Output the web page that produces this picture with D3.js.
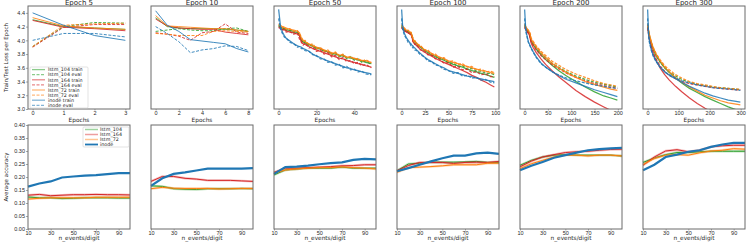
<!DOCTYPE html>
<html>
<head>
<meta charset="utf-8">
<script src="https://cdn.jsdelivr.net/npm/d3@7"></script>
<style>
  body { margin: 0; background: #fff; }
  svg { display: block; font-family: 'DejaVu Sans', sans-serif; }
</style>
</head>
<body>
<div id="chart"></div>
<script>
// Series names and colours
const models = ['lstm_104', 'lstm_164', 'lstm_72', 'inode'];
const colors = { lstm_104: '#2ca02c', lstm_164: '#d62728', lstm_72: '#ff7f0e', inode: '#1f77b4' };

// ---- Top row: loss per epoch ----
const epochs5 = [0, 1, 2, 3];
const loss5 = {
  lstm_104_train: [4.30, 4.20, 4.18, 4.16],
  lstm_104_eval: [3.91, 4.20, 4.26, 4.25],
  lstm_164_train: [4.29, 4.19, 4.17, 4.14],
  lstm_164_eval: [3.90, 4.19, 4.23, 4.23],
  lstm_72_train: [4.33, 4.21, 4.18, 4.16],
  lstm_72_eval: [3.91, 4.22, 4.24, 4.25],
  inode_train: [4.40, 4.22, 4.07, 4.00],
  inode_eval: [4.00, 4.10, 4.10, 4.05],
};

const epochs10 = [0, 1, 2, 3, 4, 5, 6, 7, 8];
const loss10 = {
  lstm_104_train: [4.33, 4.20, 4.18, 4.17, 4.17, 4.17, 4.16, 4.15, 4.13],
  lstm_104_eval: [4.13, 4.15, 4.17, 4.15, 4.14, 4.14, 4.17, 4.18, 4.13],
  lstm_164_train: [4.31, 4.21, 4.18, 4.17, 4.16, 4.16, 4.12, 4.10, 4.08],
  lstm_164_eval: [4.11, 4.09, 4.06, 4.00, 4.11, 4.13, 4.24, 4.12, 4.10],
  lstm_72_train: [4.36, 4.21, 4.20, 4.19, 4.18, 4.17, 4.17, 4.15, 4.13],
  lstm_72_eval: [4.10, 4.09, 4.07, 4.07, 4.07, 4.13, 4.14, 4.13, 4.12],
  inode_train: [4.43, 4.22, 4.13, 4.01, 3.99, 3.97, 3.95, 3.88, 3.83],
  inode_eval: [4.20, 4.10, 3.98, 3.82, 3.86, 3.88, 3.92, 3.91, 3.85],
};

const epochs50 = [0, 1, 2, 3, 4, 6, 8, 10, 11, 12, 13, 14, 16, 18, 20, 22, 24, 26, 28, 30, 32, 34, 36, 38, 40, 42, 44, 46, 49];
const loss50 = {
  lstm_104_train: [4.22, 4.19, 4.18, 4.17, 4.16, 4.14, 4.13, 4.11, 4.09, 4.00, 3.98, 3.96, 3.94, 3.91, 3.89, 3.87, 3.85, 3.83, 3.81, 3.80, 3.78, 3.77, 3.75, 3.74, 3.73, 3.71, 3.70, 3.68, 3.66],
  lstm_104_eval: [4.20, 4.20, 4.16, 4.18, 4.14, 4.15, 4.11, 4.12, 4.07, 4.02, 3.96, 3.98, 3.92, 3.93, 3.87, 3.89, 3.83, 3.85, 3.79, 3.82, 3.76, 3.79, 3.73, 3.76, 3.71, 3.73, 3.68, 3.70, 3.65],
  lstm_164_train: [4.20, 4.17, 4.16, 4.15, 4.14, 4.12, 4.11, 4.09, 4.07, 3.97, 3.95, 3.94, 3.91, 3.88, 3.86, 3.84, 3.82, 3.80, 3.78, 3.76, 3.74, 3.73, 3.71, 3.69, 3.68, 3.66, 3.65, 3.63, 3.61],
  lstm_164_eval: [4.18, 4.18, 4.15, 4.16, 4.12, 4.13, 4.09, 4.11, 4.02, 3.99, 3.93, 3.96, 3.89, 3.90, 3.84, 3.86, 3.80, 3.82, 3.76, 3.78, 3.72, 3.75, 3.69, 3.71, 3.66, 3.68, 3.63, 3.65, 3.60],
  lstm_72_train: [4.24, 4.21, 4.20, 4.19, 4.18, 4.16, 4.15, 4.13, 4.11, 4.03, 4.00, 3.98, 3.95, 3.92, 3.90, 3.88, 3.86, 3.84, 3.82, 3.81, 3.79, 3.78, 3.76, 3.75, 3.74, 3.72, 3.71, 3.70, 3.68],
  lstm_72_eval: [4.22, 4.22, 4.18, 4.20, 4.16, 4.17, 4.13, 4.14, 4.09, 4.05, 3.98, 4.00, 3.93, 3.95, 3.88, 3.90, 3.84, 3.86, 3.80, 3.83, 3.77, 3.80, 3.74, 3.77, 3.72, 3.74, 3.69, 3.72, 3.67],
  inode_train: [4.45, 4.20, 4.12, 4.07, 4.03, 3.99, 3.95, 3.92, 3.91, 3.90, 3.88, 3.87, 3.84, 3.80, 3.77, 3.75, 3.72, 3.70, 3.68, 3.66, 3.64, 3.62, 3.60, 3.59, 3.57, 3.56, 3.54, 3.53, 3.51],
  inode_eval: [4.32, 4.16, 4.10, 4.05, 4.03, 3.97, 3.95, 3.90, 3.91, 3.88, 3.88, 3.85, 3.84, 3.79, 3.78, 3.73, 3.73, 3.68, 3.69, 3.64, 3.65, 3.60, 3.62, 3.57, 3.58, 3.54, 3.55, 3.51, 3.50],
};

const epochs100 = [0, 1, 2, 3, 5, 7, 9, 10, 11, 12, 13, 14, 16, 20, 24, 28, 32, 36, 40, 45, 50, 55, 60, 65, 70, 75, 80, 85, 90, 95, 99];
const loss100 = {
  lstm_104_train: [4.21, 4.18, 4.17, 4.15, 4.14, 4.12, 4.11, 4.10, 4.07, 4.02, 3.99, 3.98, 3.95, 3.90, 3.86, 3.82, 3.79, 3.76, 3.74, 3.71, 3.68, 3.65, 3.63, 3.61, 3.58, 3.56, 3.54, 3.52, 3.50, 3.48, 3.46],
  lstm_104_eval: [4.19, 4.19, 4.15, 4.16, 4.12, 4.13, 4.09, 4.11, 4.05, 4.03, 3.97, 3.99, 3.93, 3.92, 3.85, 3.84, 3.78, 3.78, 3.73, 3.73, 3.67, 3.67, 3.62, 3.63, 3.58, 3.59, 3.55, 3.55, 3.52, 3.52, 3.50],
  lstm_164_train: [4.19, 4.16, 4.15, 4.14, 4.12, 4.11, 4.09, 4.08, 4.05, 3.99, 3.96, 3.95, 3.92, 3.87, 3.83, 3.80, 3.77, 3.74, 3.71, 3.68, 3.65, 3.62, 3.59, 3.56, 3.53, 3.49, 3.46, 3.42, 3.39, 3.35, 3.32],
  lstm_164_eval: [4.18, 4.17, 4.16, 4.13, 4.13, 4.10, 4.10, 4.07, 4.06, 3.98, 3.98, 3.94, 3.94, 3.86, 3.85, 3.79, 3.79, 3.73, 3.73, 3.67, 3.67, 3.61, 3.62, 3.57, 3.58, 3.53, 3.54, 3.50, 3.51, 3.47, 3.47],
  lstm_72_train: [4.23, 4.20, 4.19, 4.17, 4.15, 4.14, 4.12, 4.11, 4.08, 4.03, 4.00, 3.99, 3.96, 3.91, 3.87, 3.84, 3.81, 3.78, 3.76, 3.73, 3.70, 3.68, 3.66, 3.64, 3.62, 3.60, 3.58, 3.56, 3.55, 3.53, 3.52],
  lstm_72_eval: [4.22, 4.21, 4.17, 4.18, 4.14, 4.15, 4.11, 4.12, 4.06, 4.04, 3.98, 4.00, 3.94, 3.93, 3.86, 3.86, 3.80, 3.80, 3.75, 3.75, 3.69, 3.70, 3.65, 3.66, 3.61, 3.62, 3.57, 3.58, 3.54, 3.55, 3.53],
  inode_train: [4.45, 4.22, 4.15, 4.10, 4.04, 4.00, 3.96, 3.95, 3.93, 3.92, 3.90, 3.89, 3.86, 3.81, 3.76, 3.72, 3.69, 3.66, 3.63, 3.60, 3.56, 3.54, 3.52, 3.50, 3.48, 3.47, 3.45, 3.44, 3.42, 3.41, 3.40],
  inode_eval: [4.32, 4.17, 4.12, 4.07, 4.03, 3.97, 3.95, 3.92, 3.92, 3.89, 3.89, 3.86, 3.85, 3.79, 3.76, 3.70, 3.69, 3.64, 3.63, 3.58, 3.56, 3.52, 3.53, 3.48, 3.49, 3.45, 3.46, 3.42, 3.43, 3.39, 3.38],
};

const epochs200 = [0, 2, 4, 8, 10, 12, 14, 18, 25, 35, 45, 60, 75, 90, 110, 130, 150, 170, 185, 199];
const loss200 = {
  lstm_104_train: [4.22, 4.18, 4.16, 4.12, 4.10, 4.05, 3.99, 3.94, 3.87, 3.79, 3.72, 3.63, 3.55, 3.48, 3.40, 3.32, 3.25, 3.19, 3.16, 3.13],
  lstm_104_eval: [4.20, 4.19, 4.15, 4.13, 4.11, 4.07, 4.00, 3.96, 3.89, 3.81, 3.75, 3.66, 3.60, 3.54, 3.48, 3.43, 3.39, 3.36, 3.34, 3.32],
  lstm_164_train: [4.20, 4.16, 4.14, 4.10, 4.08, 4.02, 3.96, 3.90, 3.82, 3.73, 3.65, 3.55, 3.46, 3.38, 3.27, 3.18, 3.10, 3.03, 2.98, 2.95],
  lstm_164_eval: [4.18, 4.17, 4.13, 4.11, 4.09, 4.04, 3.98, 3.93, 3.86, 3.78, 3.72, 3.64, 3.58, 3.52, 3.46, 3.41, 3.37, 3.34, 3.32, 3.30],
  lstm_72_train: [4.24, 4.20, 4.18, 4.14, 4.12, 4.08, 4.02, 3.97, 3.90, 3.82, 3.75, 3.66, 3.59, 3.53, 3.46, 3.40, 3.36, 3.32, 3.29, 3.27],
  lstm_72_eval: [4.22, 4.21, 4.17, 4.15, 4.13, 4.10, 4.03, 3.99, 3.92, 3.84, 3.78, 3.69, 3.63, 3.57, 3.51, 3.46, 3.41, 3.37, 3.35, 3.33],
  inode_train: [4.45, 4.20, 4.10, 3.98, 3.95, 3.92, 3.89, 3.84, 3.76, 3.67, 3.61, 3.54, 3.48, 3.43, 3.38, 3.33, 3.28, 3.24, 3.21, 3.18],
  inode_eval: [4.32, 4.16, 4.08, 3.97, 3.94, 3.91, 3.88, 3.83, 3.75, 3.66, 3.61, 3.54, 3.49, 3.45, 3.41, 3.38, 3.35, 3.33, 3.31, 3.30],
};

const epochs300 = [0, 3, 6, 12, 18, 27, 40, 55, 70, 90, 110, 135, 160, 185, 210, 235, 260, 285, 299];
const loss300 = {
  lstm_104_train: [4.22, 4.12, 4.05, 3.95, 3.87, 3.78, 3.69, 3.60, 3.53, 3.45, 3.38, 3.30, 3.24, 3.18, 3.13, 3.08, 3.03, 2.99, 2.97],
  lstm_104_eval: [4.20, 4.13, 4.06, 3.96, 3.88, 3.78, 3.68, 3.60, 3.54, 3.48, 3.43, 3.39, 3.36, 3.34, 3.32, 3.31, 3.30, 3.29, 3.28],
  lstm_164_train: [4.20, 4.09, 4.01, 3.90, 3.81, 3.71, 3.60, 3.50, 3.42, 3.33, 3.25, 3.16, 3.08, 3.01, 2.95, 2.90, 2.86, 2.82, 2.80],
  lstm_164_eval: [4.18, 4.10, 4.02, 3.92, 3.83, 3.73, 3.63, 3.55, 3.49, 3.44, 3.40, 3.37, 3.35, 3.33, 3.31, 3.30, 3.29, 3.28, 3.28],
  lstm_72_train: [4.24, 4.14, 4.07, 3.97, 3.89, 3.80, 3.70, 3.61, 3.54, 3.46, 3.39, 3.32, 3.26, 3.20, 3.16, 3.12, 3.09, 3.07, 3.06],
  lstm_72_eval: [4.22, 4.15, 4.08, 3.98, 3.90, 3.81, 3.72, 3.63, 3.57, 3.50, 3.45, 3.40, 3.37, 3.35, 3.33, 3.31, 3.30, 3.29, 3.29],
  inode_train: [4.45, 4.10, 3.98, 3.86, 3.78, 3.70, 3.61, 3.54, 3.49, 3.44, 3.39, 3.33, 3.28, 3.23, 3.19, 3.16, 3.13, 3.11, 3.10],
  inode_eval: [4.32, 4.06, 3.96, 3.85, 3.77, 3.69, 3.61, 3.54, 3.50, 3.45, 3.41, 3.38, 3.35, 3.33, 3.31, 3.30, 3.29, 3.28, 3.27],
};

const topPanels = [
  { title: 'Epoch 5', x: epochs5, loss: loss5, ticks: [0, 1, 2, 3] },
  { title: 'Epoch 10', x: epochs10, loss: loss10, ticks: [0, 2, 4, 6, 8] },
  { title: 'Epoch 50', x: epochs50, loss: loss50, ticks: [0, 20, 40] },
  { title: 'Epoch 100', x: epochs100, loss: loss100, ticks: [0, 25, 50, 75, 100] },
  { title: 'Epoch 200', x: epochs200, loss: loss200, ticks: [0, 50, 100, 150, 200] },
  { title: 'Epoch 300', x: epochs300, loss: loss300, ticks: [0, 100, 200, 300] },
];
const lossTicks = [3.0, 3.2, 3.4, 3.6, 3.8, 4.0, 4.2, 4.4];

// ---- Bottom row: accuracy vs n_events/digit ----
const nEvents = [10, 20, 30, 40, 50, 60, 70, 80, 90, 100];
const accuracy = [
  { // Epoch 5
    lstm_104: [0.123, 0.120, 0.120, 0.117, 0.118, 0.120, 0.120, 0.120, 0.119, 0.119],
    lstm_164: [0.130, 0.133, 0.128, 0.130, 0.132, 0.132, 0.133, 0.132, 0.132, 0.131],
    lstm_72: [0.115, 0.118, 0.120, 0.120, 0.120, 0.120, 0.122, 0.122, 0.122, 0.122],
    inode: [0.163, 0.175, 0.183, 0.198, 0.202, 0.205, 0.207, 0.211, 0.215, 0.215],
  },
  { // Epoch 10
    lstm_104: [0.166, 0.164, 0.155, 0.153, 0.152, 0.155, 0.155, 0.155, 0.156, 0.155],
    lstm_164: [0.183, 0.202, 0.202, 0.195, 0.192, 0.187, 0.187, 0.187, 0.185, 0.183],
    lstm_72: [0.155, 0.160, 0.157, 0.156, 0.156, 0.156, 0.154, 0.155, 0.156, 0.156],
    inode: [0.166, 0.195, 0.212, 0.218, 0.225, 0.232, 0.232, 0.232, 0.232, 0.234],
  },
  { // Epoch 50
    lstm_104: [0.208, 0.227, 0.231, 0.234, 0.234, 0.234, 0.238, 0.234, 0.234, 0.234],
    lstm_164: [0.218, 0.234, 0.234, 0.236, 0.238, 0.240, 0.243, 0.244, 0.247, 0.247],
    lstm_72: [0.215, 0.227, 0.231, 0.234, 0.236, 0.236, 0.239, 0.236, 0.234, 0.231],
    inode: [0.212, 0.238, 0.240, 0.244, 0.249, 0.253, 0.256, 0.266, 0.270, 0.268],
  },
  { // Epoch 100
    lstm_104: [0.224, 0.250, 0.253, 0.257, 0.257, 0.257, 0.258, 0.260, 0.256, 0.256],
    lstm_164: [0.224, 0.244, 0.256, 0.256, 0.256, 0.252, 0.256, 0.257, 0.256, 0.260],
    lstm_72: [0.218, 0.236, 0.238, 0.240, 0.243, 0.247, 0.247, 0.247, 0.253, 0.253],
    inode: [0.222, 0.234, 0.247, 0.260, 0.272, 0.282, 0.282, 0.291, 0.294, 0.289],
  },
  { // Epoch 200
    lstm_104: [0.245, 0.264, 0.277, 0.284, 0.286, 0.284, 0.284, 0.284, 0.284, 0.281],
    lstm_164: [0.239, 0.261, 0.277, 0.286, 0.294, 0.297, 0.299, 0.303, 0.306, 0.307],
    lstm_72: [0.232, 0.251, 0.264, 0.277, 0.284, 0.284, 0.281, 0.284, 0.284, 0.281],
    inode: [0.226, 0.243, 0.258, 0.274, 0.284, 0.294, 0.303, 0.307, 0.310, 0.312],
  },
  { // Epoch 300
    lstm_104: [0.256, 0.273, 0.286, 0.294, 0.294, 0.297, 0.299, 0.299, 0.299, 0.299],
    lstm_164: [0.245, 0.277, 0.300, 0.305, 0.297, 0.303, 0.316, 0.320, 0.322, 0.322],
    lstm_72: [0.248, 0.271, 0.284, 0.286, 0.284, 0.293, 0.300, 0.303, 0.309, 0.307],
    inode: [0.226, 0.247, 0.277, 0.286, 0.297, 0.303, 0.316, 0.325, 0.331, 0.331],
  },
];
const accTicks = [0.00, 0.05, 0.10, 0.15, 0.20, 0.25, 0.30, 0.35, 0.40];
const nEventTicks = [10, 30, 50, 70, 90];

/* Layout */
const width = 748, height = 242;
const panelW = 102;
const panelX = (i) => 28 + i * 123;
const topY = [6, 109];
const botY = [125, 229];
const textColor = '#262626';
const spineColor = '#6b6b6b';

const svg = d3.select('#chart').append('svg')
  .attr('width', width).attr('height', height);

const defs = svg.append('defs');

// y scales shared by each row
const yLoss = d3.scaleLinear().domain([3.0, 4.5]).range([topY[1], topY[0]]);
const yAcc = d3.scaleLinear().domain([0, 0.4]).range([botY[1], botY[0]]);

// style a d3 axis group the way the figure does
const styleAxis = (sel) => {
  sel.select('.domain').remove();
  sel.selectAll('line').attr('stroke', spineColor).attr('stroke-width', 0.6);
  sel.selectAll('text').attr('fill', textColor).attr('font-size', 5.5);
};

/* Top row */
topPanels.forEach((p, i) => {
  const x0 = panelX(i);
  const xmax = d3.max(p.x);
  const pad = xmax * 0.05;
  const x = d3.scaleLinear().domain([-pad, xmax + pad]).range([x0, x0 + panelW]);
  const lw = i < 2 ? 1 : 1.25;

  defs.append('clipPath').attr('id', 'clipTop' + i)
    .append('rect').attr('x', x0).attr('y', topY[0]).attr('width', panelW).attr('height', topY[1] - topY[0]);

  const g = svg.append('g');
  const plot = g.append('g').attr('clip-path', `url(#clipTop${i})`);

  const line = d3.line().x((d, k) => x(p.x[k])).y((d) => yLoss(d));

  models.forEach((m) => {
    ['train', 'eval'].forEach((kind) => {
      plot.append('path')
        .datum(p.loss[`${m}_${kind}`])
        .attr('fill', 'none')
        .attr('stroke', colors[m])
        .attr('stroke-width', lw)
        .attr('stroke-opacity', 0.85)
        .attr('stroke-linejoin', 'round')
        .attr('stroke-dasharray', kind === 'eval' ? '3,1.5' : null)
        .attr('d', line);
    });
  });

  // x axis
  g.append('g').attr('transform', `translate(0,${topY[1]})`)
    .call(d3.axisBottom(x).tickValues(p.ticks).tickSize(1.5).tickPadding(0.5).tickFormat(d3.format('d')))
    .call(styleAxis);

  g.append('text')
    .attr('x', x0 + panelW / 2).attr('y', 121.5)
    .attr('text-anchor', 'middle').attr('font-size', 5.8).attr('fill', textColor)
    .text('Epochs');

  g.append('text')
    .attr('x', x0 + panelW / 2).attr('y', 4.5)
    .attr('text-anchor', 'middle').attr('font-size', 7).attr('fill', textColor)
    .text(p.title);

  if (i === 0) {
    g.append('g').attr('transform', `translate(${x0},0)`)
      .call(d3.axisLeft(yLoss).tickValues(lossTicks).tickSize(2).tickPadding(1).tickFormat(d3.format('.1f')))
      .call(styleAxis);
  }

  g.append('rect')
    .attr('x', x0).attr('y', topY[0]).attr('width', panelW).attr('height', topY[1] - topY[0])
    .attr('fill', 'none').attr('stroke', spineColor).attr('stroke-width', 1);
});

/* Bottom row */
accuracy.forEach((acc, i) => {
  const x0 = panelX(i);
  const x = d3.scaleLinear().domain([10, 100]).range([x0, x0 + panelW]);
  const g = svg.append('g');
  const line = d3.line().x((d, k) => x(nEvents[k])).y((d) => yAcc(d));

  ['lstm_104', 'lstm_164', 'lstm_72'].forEach((m) => {
    g.append('path').datum(acc[m])
      .attr('fill', 'none').attr('stroke', colors[m])
      .attr('stroke-width', 2.4).attr('stroke-opacity', 0.3).attr('d', line);
    g.append('path').datum(acc[m])
      .attr('fill', 'none').attr('stroke', colors[m])
      .attr('stroke-width', 1).attr('d', line);
  });
  g.append('path').datum(acc.inode)
    .attr('fill', 'none').attr('stroke', colors.inode)
    .attr('stroke-width', 2.2).attr('d', line);

  g.append('g').attr('transform', `translate(0,${botY[1]})`)
    .call(d3.axisBottom(x).tickValues(nEventTicks).tickSize(1.5).tickPadding(0.5).tickFormat(d3.format('d')))
    .call(styleAxis);

  g.append('text')
    .attr('x', x0 + panelW / 2).attr('y', 240.3)
    .attr('text-anchor', 'middle').attr('font-size', 5.8).attr('fill', textColor)
    .text('n_events/digit');

  if (i === 0) {
    g.append('g').attr('transform', `translate(${x0},0)`)
      .call(d3.axisLeft(yAcc).tickValues(accTicks).tickSize(2).tickPadding(1).tickFormat(d3.format('.2f')))
      .call(styleAxis);
  }

  g.append('rect')
    .attr('x', x0).attr('y', botY[0]).attr('width', panelW).attr('height', botY[1] - botY[0])
    .attr('fill', 'none').attr('stroke', spineColor).attr('stroke-width', 1);
});

/* Axis titles */
svg.append('text')
  .attr('transform', `translate(8,${(topY[0] + topY[1]) / 2}) rotate(-90)`)
  .attr('text-anchor', 'middle').attr('font-size', 5.5).attr('fill', textColor)
  .text('Train/Test Loss per Epoch');
svg.append('text')
  .attr('transform', `translate(8,${(botY[0] + botY[1]) / 2}) rotate(-90)`)
  .attr('text-anchor', 'middle').attr('font-size', 5.5).attr('fill', textColor)
  .text('Average accuracy');

/* Legends */
const topLegend = [];
models.forEach((m) => ['train', 'eval'].forEach((k) => topLegend.push({ model: m, kind: k })));

const lt = svg.append('g');
lt.append('rect').attr('x', 30).attr('y', 67).attr('width', 58).attr('height', 41)
  .attr('fill', '#fff').attr('fill-opacity', 0.8).attr('stroke', '#d0d0d0').attr('stroke-width', 0.6).attr('rx', 1);
topLegend.forEach((d, k) => {
  const yy = 69.6 + k * 5.1;
  lt.append('line').attr('x1', 32).attr('x2', 45).attr('y1', yy).attr('y2', yy)
    .attr('stroke', colors[d.model]).attr('stroke-width', 1.3).attr('stroke-opacity', 0.55)
    .attr('stroke-dasharray', d.kind === 'eval' ? '3,1.5' : null);
  lt.append('text').attr('x', 48).attr('y', yy + 1.7).attr('font-size', 4.8).attr('fill', textColor)
    .text(`${d.model} ${d.kind}`);
});

const lb = svg.append('g');
lb.append('rect').attr('x', 83).attr('y', 127).attr('width', 46).attr('height', 20)
  .attr('fill', '#fff').attr('fill-opacity', 0.8).attr('stroke', '#d0d0d0').attr('stroke-width', 0.6).attr('rx', 1);
models.forEach((m, k) => {
  const yy = 129.5 + k * 5;
  lb.append('line').attr('x1', 85).attr('x2', 98).attr('y1', yy).attr('y2', yy)
    .attr('stroke', colors[m]).attr('stroke-width', m === 'inode' ? 1.8 : 1.5)
    .attr('stroke-opacity', m === 'inode' ? 1 : 0.45);
  lb.append('text').attr('x', 100).attr('y', yy + 1.7).attr('font-size', 4.8).attr('fill', textColor)
    .text(m);
});
</script>
</body>
</html>
